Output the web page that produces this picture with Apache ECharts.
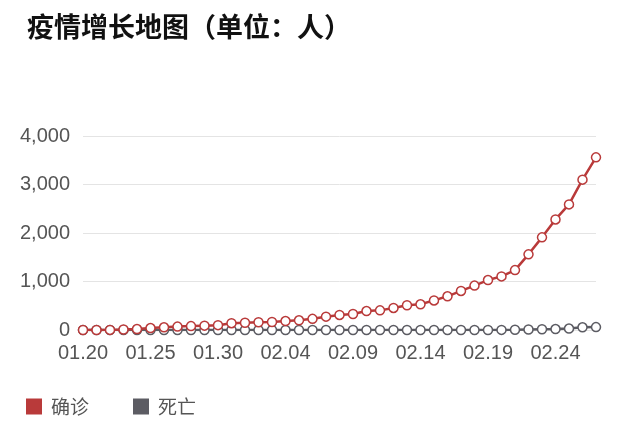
<!DOCTYPE html>
<html>
<head>
<meta charset="utf-8">
<script src="https://cdn.jsdelivr.net/npm/echarts@6/dist/echarts.min.js"></script>
<style>
  html, body { margin: 0; padding: 0; background: #fff; }
  #main { width: 640px; height: 436px; }
</style>
</head>
<body>
<div id="main"></div>
<script>
// 日期 01.20 - 02.27
var dates = [
  "01.20", "01.21", "01.22", "01.23", "01.24", "01.25", "01.26", "01.27", "01.28", "01.29",
  "01.30", "01.31", "02.01", "02.02", "02.03", "02.04", "02.05", "02.06", "02.07", "02.08",
  "02.09", "02.10", "02.11", "02.12", "02.13", "02.14", "02.15", "02.16", "02.17", "02.18",
  "02.19", "02.20", "02.21", "02.22", "02.23", "02.24", "02.25", "02.26", "02.27"
];
// 确诊
var confirmed = [
  0, 0, 2, 10, 20, 40, 55, 70, 80, 90,
  100, 140, 150, 160, 165, 185, 200, 230, 275, 310,
  330, 390, 405, 455, 510, 530, 610, 695, 805, 915,
  1030, 1105, 1235, 1560, 1910, 2280, 2590, 3100, 3560
];
// 死亡
var deaths = [
  0, 0, 0, 0, 0, 0, 0, 0, 0, 0,
  0, 0, 0, 0, 0, 0, 0, 0, 0, 0,
  0, 0, 0, 0, 0, 0, 0, 0, 0, 0,
  0, 2, 5, 10, 15, 20, 30, 55, 60
];
var yTicks = [0, 1000, 2000, 3000, 4000];

var myChart = echarts.init(document.getElementById("main"));

var option = {
  backgroundColor: "#fff",
  animation: false,
  title: {
    text: "疫情增长地图（单位：人）",
    left: 22,
    top: 8,
    textStyle: {
      fontFamily: "Noto Sans CJK SC",
      fontSize: 27,
      fontWeight: "bold",
      color: "#111"
    }
  },
  legend: {
    left: 21,
    top: 392,
    icon: "rect",
    itemWidth: 16,
    itemHeight: 16,
    itemGap: 44,
    textStyle: {
      fontFamily: "Noto Sans CJK SC",
      fontSize: 19,
      color: "#555",
      padding: [0, 0, 0, 4]
    },
    // 图例颜色用实心
    data: [
      { name: "确诊", itemStyle: { color: "#b93a3a", borderWidth: 0 } },
      { name: "死亡", itemStyle: { color: "#5c5c63", borderWidth: 0 } }
    ]
  },
  grid: {
    left: 83,
    right: 44,
    top: 136,
    bottom: 106
  },
  xAxis: {
    type: "category",
    data: dates,
    boundaryGap: false,
    axisLine: { show: false },
    axisTick: { show: false },
    axisLabel: {
      interval: 4,
      margin: 13,
      fontFamily: "Liberation Sans",
      fontSize: 20,
      color: "#555"
    }
  },
  yAxis: {
    type: "value",
    min: yTicks[0],
    max: yTicks[yTicks.length - 1],
    interval: 1000,
    axisLine: { show: false },
    axisTick: { show: false },
    splitLine: { lineStyle: { color: "#e4e4e4", width: 1 } },
    axisLabel: {
      margin: 13,
      fontFamily: "Liberation Sans",
      fontSize: 20,
      color: "#555",
      formatter: function (v) { return v.toLocaleString("en-US"); }
    }
  },
  series: [
    {
      name: "确诊",
      type: "line",
      data: confirmed,
      symbol: "circle",
      symbolSize: 9,
      showAllSymbol: true,
      z: 3,
      itemStyle: { color: "#fff", borderColor: "#b93a3a", borderWidth: 1.5 },
      lineStyle: { color: "#b93a3a", width: 2.5 }
    },
    {
      name: "死亡",
      type: "line",
      data: deaths,
      symbol: "circle",
      symbolSize: 9,
      showAllSymbol: true,
      z: 2,
      itemStyle: { color: "#fff", borderColor: "#5c5c63", borderWidth: 1.5 },
      lineStyle: { color: "#5c5c63", width: 2.5 }
    }
  ]
};

myChart.setOption(option);
</script>
</body>
</html>
